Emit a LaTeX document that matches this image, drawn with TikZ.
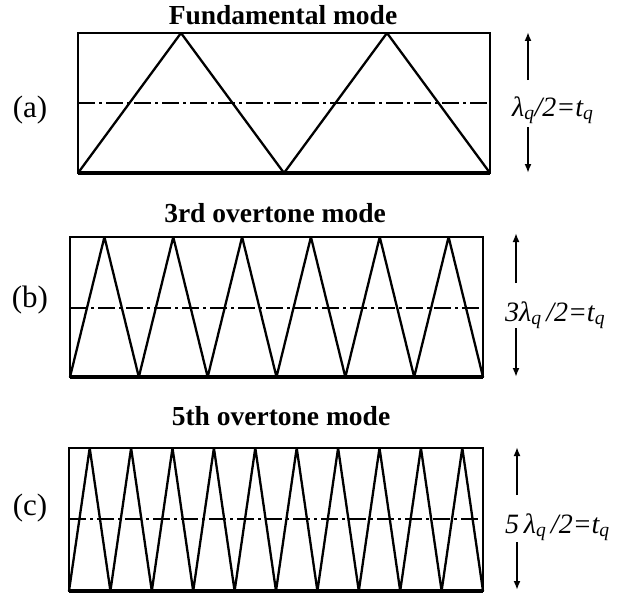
\documentclass[tikz,border=0pt]{standalone}
\usepackage{fontspec}
\setmainfont{Liberation Serif}
\usetikzlibrary{arrows.meta}
\tikzset{
  modetitle/.style={font=\fontsize{27.5}{30}\selectfont\bfseries, anchor=base, inner sep=0pt},
  tag/.style={font=\fontsize{31}{34}\selectfont, inner sep=0pt},
  thicklabel/.style={font=\fontsize{28}{31}\selectfont\itshape, anchor=base west, inner sep=0pt},
  plate/.style={line width=1.8pt},
  base/.style={line width=3.8pt},
  wave/.style={line width=2.3pt, line join=bevel},
  midline/.style={line width=1.9pt, dash pattern=on 17pt off 4pt on 3pt off 4pt},
  gauge/.style={line width=2pt, -{Latex[length=9pt,width=7pt]}},
}
\begin{document}
\begin{tikzpicture}[x=1pt, y=-1pt]
        \useasboundingbox (0,0) rectangle (620,594);
        % (a) fundamental mode
        \node[modetitle] (titlea) at (283,25) {Fundamental mode};
        \node[tag] (taga) at (30,110) {(a)};
        \draw[plate] (78,33) rectangle (490,173);
        \draw[base] (78,173) -- (490,173);
        \draw[midline] (78,103) -- (490,103);
        \pgfmathsetmacro\hwa{(490-78)/4}
        \draw[wave] (78,173) \foreach \k in {1,2} {-- ({78+(2*\k-1)*\hwa},33) -- ({78+2*\k*\hwa},173)};
        \node[thicklabel] (labela) at (512,116) {λ\textsubscript{q}/2=t\textsubscript{q}};
        \coordinate (topa) at (528,32);
        \coordinate (bota) at (528,173);
        \coordinate (upa) at (528,80);
        \coordinate (dna) at (528,127);
        \draw[gauge] (upa) -- (topa);
        \draw[gauge] (dna) -- (bota);
        % (b) 3rd overtone
        \node[modetitle] (titleb) at (275,222) {3rd overtone mode};
        \node[tag] (tagb) at (30,300) {(b)};
        \draw[plate] (70,237) rectangle (483,377);
        \draw[base] (70,377) -- (483,377);
        \draw[midline] (70,308) -- (483,308);
        \pgfmathsetmacro\hwb{(483-70)/12}
        \draw[wave] (70,377) \foreach \k in {1,...,6} {-- ({70+(2*\k-1)*\hwb},237) -- ({70+2*\k*\hwb},377)};
        \node[thicklabel] (labelb) at (505,321) {3λ\textsubscript{q}\,/2=t\textsubscript{q}};
        \coordinate (topb) at (516,233);
        \coordinate (botb) at (516,377);
        \coordinate (upb) at (516,283);
        \coordinate (dnb) at (516,328);
        \draw[gauge] (upb) -- (topb);
        \draw[gauge] (dnb) -- (botb);
        % (c) 5th overtone
        \node[modetitle] (titlec) at (281,425) {5th overtone mode};
        \node[tag] (tagc) at (30,508) {(c)};
        \draw[plate] (69,448) rectangle (483,591);
        \draw[base] (69,591) -- (483,591);
        \draw[midline] (69,519) -- (483,519);
        \pgfmathsetmacro\hwc{(483-69)/20}
        \draw[wave] (69,591) \foreach \k in {1,...,10} {-- ({69+(2*\k-1)*\hwc},448) -- ({69+2*\k*\hwc},591)};
        \node[thicklabel] (labelc) at (505,533) {5\,λ\textsubscript{q}\,/2=t\textsubscript{q}};
        \coordinate (topc) at (517,447);
        \coordinate (botc) at (517,590);
        \coordinate (upc) at (517,495);
        \coordinate (dnc) at (517,542);
        \draw[gauge] (upc) -- (topc);
        \draw[gauge] (dnc) -- (botc);
\end{tikzpicture}
\end{document}
